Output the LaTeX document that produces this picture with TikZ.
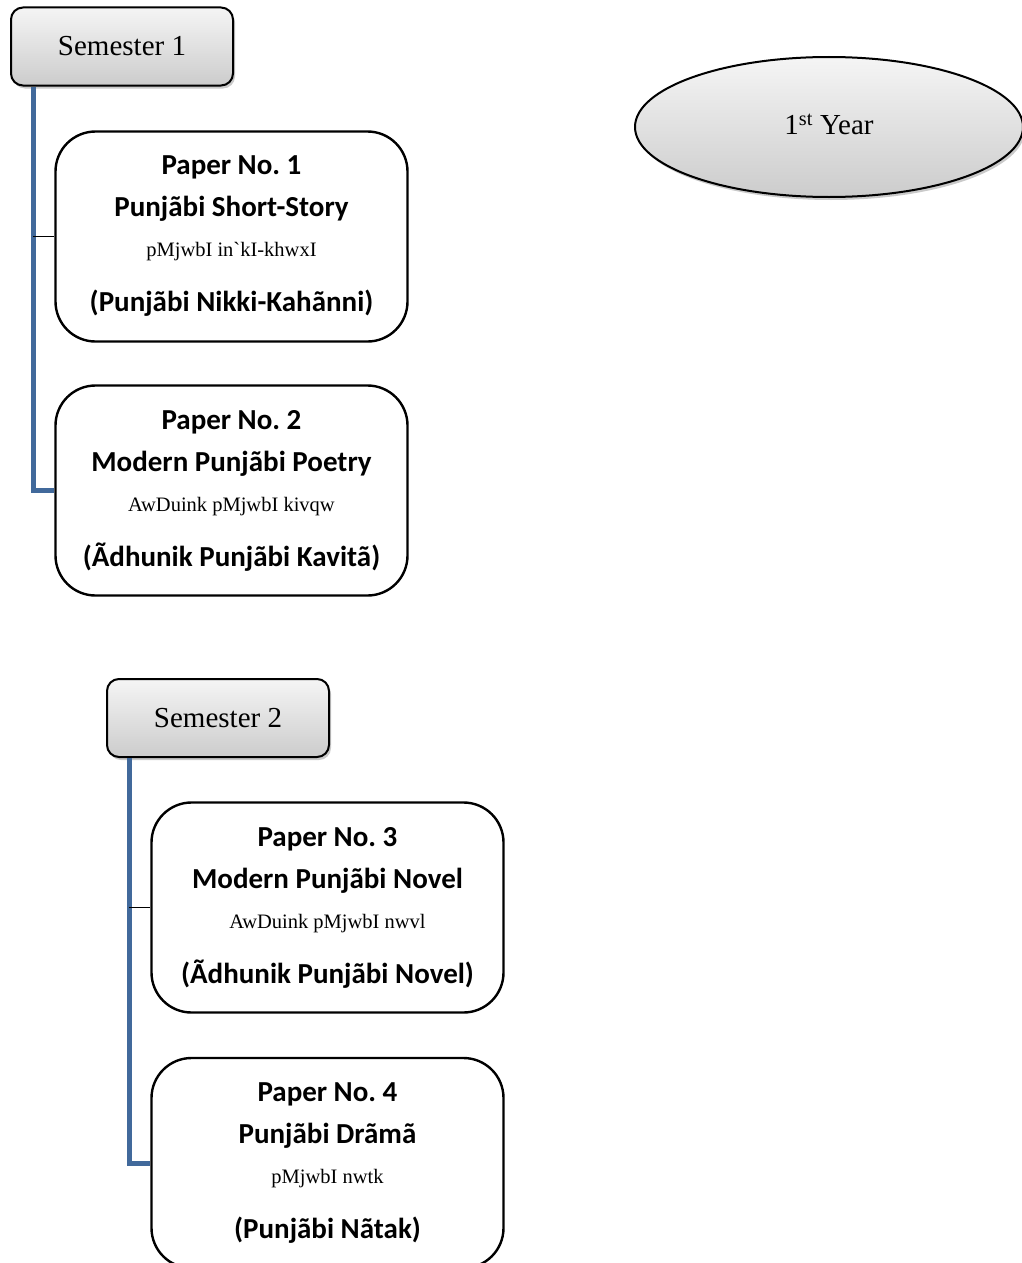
\documentclass[tikz,border=0pt]{standalone}
\usepackage{fontspec}
\setmainfont{Liberation Serif}
\newfontfamily\calfont{Carlito}
\newfontfamily\gurfont[Ligatures=TeXOff]{Liberation Serif}
\usetikzlibrary{calc}
\usetikzlibrary{shapes.geometric,shadows}
\definecolor{trunkblue}{RGB}{65,105,155}
\frenchspacing

\newcommand\gurline[1]{{\gurfont\mdseries\fontsize{20.5}{42}\selectfont #1}}

\tikzset{
    sembox/.style={draw, line width=2pt, rounded corners=12pt,
        minimum width=222pt, minimum height=78pt,
        top color=gray!8, bottom color=gray!40,
        drop shadow={shadow xshift=2pt, shadow yshift=-3pt, fill=gray!70, opacity=0.6},
        font=\fontsize{29}{34}\selectfont},
    paperbox/.style={draw, line width=2.4pt, rounded corners=40pt, fill=white,
        minimum width=352pt, minimum height=210pt, align=center,
        font=\calfont\bfseries\fontsize{29}{42}\selectfont},
    yearoval/.style={ellipse, draw, line width=2pt, inner sep=0pt,
        minimum width=388pt, minimum height=140pt,
        top color=gray!8, bottom color=gray!40,
        drop shadow={shadow xshift=2pt, shadow yshift=-3pt, fill=gray!70, opacity=0.6},
        font=\fontsize{29}{34}\selectfont},
    trunk/.style={trunkblue, line width=5pt},
    twig/.style={black, line width=1.6pt}
}

\begin{document}
\begin{tikzpicture}[x=1pt, y=-1pt]
            \useasboundingbox (0,0) rectangle (1022,1263);

            % The year oval
            \node[yearoval] (year) at (829,127) {\raisebox{5pt}{1\textsuperscript{st} Year}};

            % Semester 1 and its papers
            \node[sembox] (sem1) at (122,46.5) {Semester 1};
            \node[paperbox] (p1) at (231.5,236.5) {Paper No. 1\\ Punjãbi Short-Story\\[-2pt]
                    \gurline{pMjwbI in`kI-khwxI}\\[13pt] (Punjãbi Nikki-Kahãnni)};
            \node[paperbox] (p2) at (231.5,490.5) {Paper No. 2\\ Modern Punjãbi Poetry\\[-2pt]
                    \gurline{AwDuink pMjwbI kivqw}\\[13pt] (Ãdhunik Punjãbi Kavitã)};

            % Semester 2 and its papers
            \node[sembox] (sem2) at (218,718) {Semester 2};
            \node[paperbox] (p3) at (327.5,907.5) {Paper No. 3\\ Modern Punjãbi Novel\\[-2pt]
                    \gurline{AwDuink pMjwbI nwvl}\\[13pt] (Ãdhunik Punjãbi Novel)};
            \node[paperbox] (p4) at (327.5,1163) {Paper No. 4\\ Punjãbi Drãmã\\[-2pt]
                    \gurline{pMjwbI nwtk}\\[13pt] (Punjãbi Nãtak)};

            % Blue trunks down from each semester
            \coordinate (t1) at ($(sem1.south west)+(23,0)$);
            \coordinate (t2) at ($(sem2.south west)+(23,0)$);
            \draw[trunk] (t1) |- (p2.west);
            \draw[trunk] (t2) |- (p4.west);

            % Thin branches to the upper papers
            \draw[twig] (p1.west -| t1) -- (p1.west);
            \draw[twig] (p3.west -| t2) -- (p3.west);

        \end{tikzpicture}
\end{document}
